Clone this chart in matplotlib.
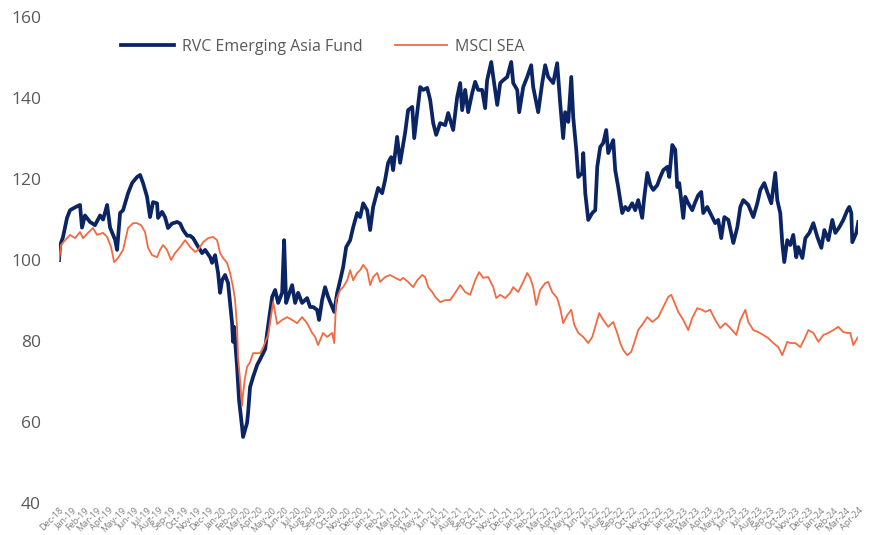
import matplotlib
matplotlib.use("Agg")
import matplotlib.pyplot as plt
import pandas as pd

plt.rcParams['font.family'] = ['Open Sans', 'DejaVu Sans']

# months since Dec-18 (tick 0) and index level
fund_m = [0.00, 0.08, 0.32, 0.64, 0.88, 1.28, 1.68, 1.84, 2.08, 2.48, 2.88, 3.29, 3.53, 3.85, 4.09,
          4.49, 4.65, 4.89, 5.13, 5.53, 5.85, 6.25, 6.49, 6.73, 7.05, 7.29, 7.53, 7.85, 7.93, 8.25,
          8.49, 8.73, 9.05, 9.46, 9.70, 9.94, 10.26, 10.50, 10.74, 11.06, 11.46, 11.70, 12.10, 12.26,
          12.50, 12.74, 12.90, 13.06, 13.30, 13.54, 13.70, 13.86, 13.94, 14.02, 14.26, 14.42, 14.66,
          14.74, 15.06, 15.14, 15.30, 15.54, 15.87, 16.11, 16.51, 16.67, 17.07, 17.31, 17.55, 17.87,
          18.03, 18.19, 18.35, 18.67, 18.91, 19.15, 19.47, 19.87, 20.11, 20.35, 20.67, 20.83, 21.07,
          21.31, 21.55, 21.88, 22.04, 22.28, 22.52, 22.76, 23.00, 23.32, 23.56, 23.88, 24.12, 24.36,
          24.68, 24.92, 25.16, 25.56, 25.88, 26.12, 26.36, 26.60, 26.76, 27.08, 27.32, 27.72, 27.96,
          28.29, 28.45, 28.69, 28.93, 29.17, 29.49, 29.73, 29.97, 30.21, 30.53, 30.93, 31.17, 31.57,
          31.89, 32.13, 32.29, 32.53, 32.77, 33.09, 33.33, 33.57, 33.89, 34.13, 34.29, 34.62, 34.78,
          35.10, 35.34, 35.58, 35.90, 36.22, 36.38, 36.70, 36.86, 37.18, 37.50, 37.82, 37.98, 38.38,
          38.70, 38.94, 39.18, 39.58, 39.90, 40.14, 40.38, 40.54, 40.79, 41.03, 41.19, 41.43, 41.59,
          41.91, 41.99, 42.15, 42.39, 42.71, 42.95, 43.11, 43.35, 43.59, 43.83, 43.99, 44.39, 44.55,
          44.79, 45.11, 45.35, 45.59, 45.91, 46.15, 46.39, 46.71, 46.88, 47.12, 47.36, 47.60, 47.92,
          48.16, 48.40, 48.72, 48.88, 49.12, 49.36, 49.52, 49.68, 50.00, 50.16, 50.40, 50.72, 50.96,
          51.20, 51.44, 51.60, 51.92, 52.32, 52.56, 52.80, 53.04, 53.29, 53.61, 54.01, 54.33, 54.57,
          54.81, 55.21, 55.61, 55.93, 56.17, 56.49, 56.73, 57.05, 57.37, 57.53, 57.77, 57.93, 58.09,
          58.33, 58.57, 58.81, 59.05, 59.21, 59.54, 59.78, 60.10, 60.42, 60.74, 61.06, 61.30, 61.62,
          61.94, 62.18, 62.50, 62.82, 63.14, 63.30, 63.46, 63.54, 63.86, 64.02]
fund_v = [100.0, 103.5, 105.7, 110.4, 112.3, 113.0, 113.6, 108.0, 111.0, 109.4, 108.6, 111.0, 110.0,
          113.6, 108.0, 105.0, 102.5, 111.6, 112.3, 116.5, 119.0, 120.5, 121.0, 119.0, 115.6, 110.6,
          114.3, 114.0, 110.4, 111.9, 110.6, 107.9, 109.0, 109.4, 109.0, 107.4, 106.0, 106.0, 105.4,
          103.7, 101.7, 102.5, 100.7, 99.3, 101.2, 96.8, 91.9, 95.0, 96.3, 94.3, 89.4, 84.4, 79.8, 83.5,
          73.6, 65.4, 58.8, 56.3, 59.8, 62.2, 68.6, 71.1, 74.1, 75.5, 78.0, 82.0, 90.9, 92.6, 89.4,
          91.9, 104.9, 89.4, 90.9, 93.8, 89.4, 91.9, 89.4, 90.6, 88.4, 88.4, 87.7, 85.2, 90.1, 93.3,
          90.9, 88.4, 87.2, 91.9, 95.0, 98.3, 103.2, 104.9, 108.1, 111.6, 110.6, 114.0, 112.3, 107.4,
          113.1, 117.8, 116.5, 119.8, 124.0, 125.4, 122.2, 130.4, 124.0, 131.4, 137.0, 137.8, 130.1,
          136.3, 142.7, 142.0, 142.5, 139.5, 133.8, 130.9, 133.8, 133.3, 136.3, 132.1, 140.2, 143.7,
          137.0, 142.0, 136.5, 141.2, 144.0, 142.0, 142.0, 137.5, 144.4, 148.9, 145.2, 138.3, 143.7,
          144.4, 145.2, 148.9, 143.7, 142.0, 136.5, 142.7, 145.2, 148.1, 142.7, 136.5, 143.7, 148.1,
          145.2, 143.7, 148.6, 138.8, 130.1, 136.5, 134.1, 145.2, 135.1, 127.2, 120.5, 121.5, 126.4,
          116.5, 109.9, 111.6, 112.3, 123.0, 127.9, 128.9, 132.1, 126.4, 129.6, 122.2, 118.0, 111.6,
          113.1, 112.3, 114.0, 112.3, 114.8, 110.4, 115.6, 121.5, 118.5, 117.3, 118.5, 120.5, 122.2,
          123.0, 120.5, 128.4, 127.2, 118.0, 119.0, 110.4, 115.6, 114.0, 112.3, 114.3, 116.0, 116.8,
          111.6, 113.1, 110.6, 109.1, 109.9, 105.4, 110.6, 109.9, 104.2, 108.1, 113.1, 114.8, 113.6,
          110.6, 114.0, 117.3, 119.0, 116.8, 114.0, 121.5, 114.8, 111.6, 104.2, 99.5, 104.9, 103.7,
          106.2, 100.7, 103.2, 100.5, 105.4, 106.7, 109.1, 105.7, 103.0, 107.4, 104.9, 109.9, 106.7,
          108.1, 109.9, 112.3, 113.1, 111.6, 104.4, 106.7, 109.4]

msci_m = [0.00, 0.16, 0.48, 0.88, 1.28, 1.68, 1.92, 2.32, 2.72, 3.04, 3.53, 3.85, 4.17, 4.41, 4.73,
          5.13, 5.53, 5.93, 6.25, 6.57, 6.89, 7.13, 7.45, 7.85, 8.09, 8.33, 8.65, 8.97, 9.29, 9.70,
          10.10, 10.50, 10.90, 11.14, 11.54, 11.94, 12.34, 12.66, 12.90, 13.14, 13.46, 13.70, 13.94,
          14.10, 14.26, 14.34, 14.50, 14.66, 14.74, 14.90, 15.06, 15.30, 15.54, 15.87, 16.11, 16.35,
          16.75, 17.07, 17.15, 17.47, 17.87, 18.27, 18.67, 19.07, 19.47, 19.87, 20.27, 20.51, 20.75,
          21.15, 21.47, 21.88, 22.04, 22.20, 22.52, 22.76, 23.08, 23.32, 23.56, 23.88, 24.12, 24.36,
          24.68, 24.92, 25.16, 25.48, 25.72, 26.12, 26.52, 26.92, 27.32, 27.56, 27.96, 28.37, 28.69,
          29.09, 29.33, 29.57, 29.89, 30.13, 30.53, 30.93, 31.33, 31.73, 32.13, 32.53, 32.93, 33.33,
          33.65, 33.97, 34.38, 34.78, 35.02, 35.34, 35.74, 36.14, 36.38, 36.78, 37.18, 37.50, 37.74,
          37.98, 38.22, 38.54, 38.94, 39.18, 39.50, 39.90, 40.14, 40.38, 40.71, 41.03, 41.27, 41.59,
          41.99, 42.39, 42.71, 42.95, 43.27, 43.59, 43.99, 44.39, 44.71, 44.95, 45.19, 45.51, 45.83,
          46.07, 46.39, 46.71, 47.12, 47.52, 48.00, 48.40, 48.80, 49.04, 49.28, 49.60, 50.00, 50.40,
          50.72, 51.12, 51.52, 51.76, 52.16, 52.56, 52.96, 53.37, 53.77, 54.25, 54.57, 54.97, 55.21,
          55.61, 56.01, 56.41, 56.81, 57.21, 57.61, 57.93, 58.17, 58.33, 58.57, 58.97, 59.38, 59.78,
          60.02, 60.42, 60.82, 61.22, 61.62, 62.02, 62.42, 62.82, 63.14, 63.38, 63.62, 63.94, 64.02]
msci_v = [100.0, 103.7, 104.9, 106.2, 105.4, 106.9, 105.4, 106.7, 107.9, 106.2, 106.7, 105.7, 103.2,
          99.5, 100.5, 102.5, 107.9, 109.1, 109.1, 108.6, 106.9, 103.0, 101.2, 100.7, 102.5, 103.7,
          102.5, 100.0, 101.7, 103.2, 104.9, 103.2, 102.0, 102.5, 104.4, 105.4, 105.7, 104.9, 101.7,
          100.5, 99.3, 96.8, 93.3, 90.1, 83.5, 76.0, 70.4, 64.0, 67.0, 71.0, 73.6, 74.8, 77.0, 77.0,
          77.0, 78.4, 81.5, 88.1, 89.6, 84.2, 85.2, 85.9, 85.2, 84.4, 85.9, 84.4, 82.0, 81.0, 79.0,
          82.0, 81.0, 82.0, 79.5, 90.1, 92.6, 93.3, 95.0, 97.5, 95.0, 96.8, 97.5, 98.8, 97.5, 93.8,
          95.8, 96.8, 94.6, 95.8, 96.3, 95.6, 95.0, 95.6, 94.6, 93.3, 95.0, 96.3, 95.8, 93.3, 92.1,
          90.9, 89.6, 90.1, 90.1, 91.9, 93.8, 92.1, 91.4, 95.0, 97.0, 95.6, 95.8, 93.3, 90.6, 91.4,
          90.6, 91.9, 93.3, 92.1, 94.6, 96.8, 95.6, 93.3, 88.9, 92.6, 94.3, 94.6, 92.1, 90.6, 88.1,
          84.4, 86.4, 87.7, 84.0, 82.0, 81.0, 79.5, 81.0, 83.5, 86.9, 85.2, 83.5, 84.7, 82.0, 79.5,
          77.8, 76.5, 77.3, 79.5, 82.7, 84.0, 85.9, 84.7, 85.9, 88.4, 90.9, 91.4, 89.6, 87.2, 85.2,
          82.7, 85.7, 88.1, 87.7, 87.2, 87.7, 85.2, 83.2, 84.4, 83.2, 81.5, 85.2, 87.7, 84.7, 82.7,
          82.2, 81.5, 80.7, 79.5, 78.5, 76.5, 78.5, 79.8, 79.5, 79.5, 78.5, 81.0, 82.7, 82.0, 79.8,
          81.5, 82.0, 82.7, 83.5, 82.2, 82.0, 82.0, 79.0, 80.7, 81.0]

month_labels = list(pd.period_range("2018-12", "2024-04", freq="M").strftime("%b-%y"))

fig = plt.figure(figsize=(8.72, 5.35), dpi=100)
ax = fig.add_axes([0.0677, 0.0598, 0.9163, 0.9084])

ax.plot(fund_m, fund_v, color="#0b2463", lw=2.7, label="RVC Emerging Asia Fund",
        solid_joinstyle="round")
ax.plot(msci_m, msci_v, color="#f26a41", lw=1.3, label="MSCI SEA")

ax.set_xlim(0, len(month_labels) - 1)
ax.set_ylim(40, 160)
ax.set_yticks([40, 60, 80, 100, 120, 140, 160])
ax.set_xticks(range(len(month_labels)))
ax.set_xticklabels(month_labels, rotation=45, ha="right", rotation_mode="anchor",
                   fontsize=6.5, color="#7f7f7f")
ax.tick_params(axis="y", labelsize=12.5, labelcolor="#595959", length=0, pad=13)
ax.tick_params(axis="x", length=0, pad=2)
for s in ax.spines.values():
    s.set_visible(False)

leg = ax.legend(loc="upper left", bbox_to_anchor=(0.06, 0.985), ncol=2, frameon=False,
                fontsize=11.5, handlelength=3.3, columnspacing=2.0, handletextpad=0.5)
for t in leg.get_texts():
    t.set_color("#595959")

fig.savefig("out.png", dpi=100)
